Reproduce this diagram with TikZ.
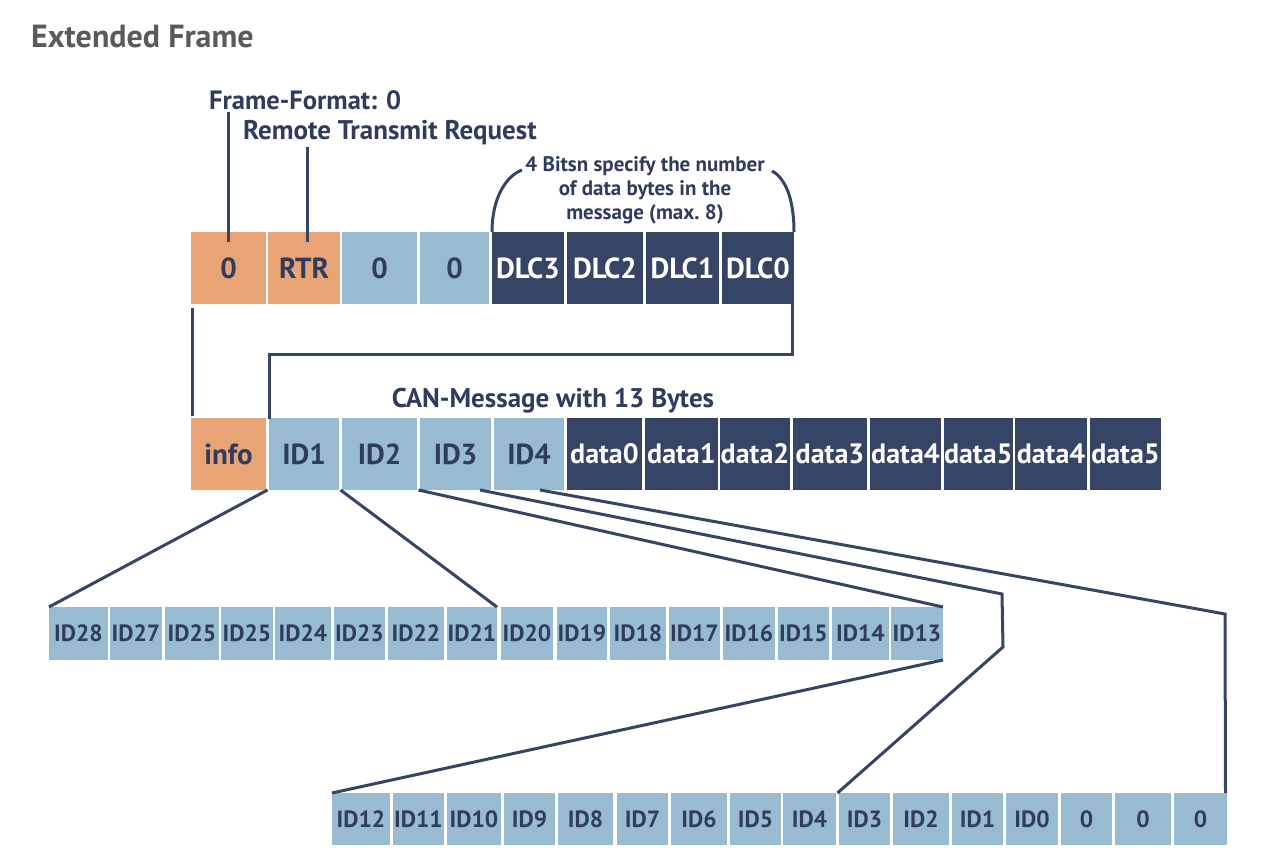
\documentclass[tikz,border=0pt]{standalone}
\usepackage{fontspec}
\setmainfont{PT Sans}
\usetikzlibrary{calc}
\definecolor{orng}{HTML}{E8A474}
\definecolor{lblue}{HTML}{98BBD1}
\definecolor{navy}{HTML}{364466}
\definecolor{txt}{HTML}{2F3C5E}
\definecolor{ttl}{HTML}{5A5A5A}
\newcommand\cellbox[7]{\node[#6, minimum width=#3-#2, minimum height=#5] (#1) at (#2,#4) {#7};}
\begin{document}
\begin{tikzpicture}[x=1pt,y=-1pt,
  cell/.style={anchor=north west, inner sep=0pt, outer sep=0pt, text=txt, font=\bfseries\fontsize{29}{29}\selectfont},
  ocell/.style={cell, fill=orng},
  bcell/.style={cell, fill=lblue},
  dcell/.style={cell, fill=navy, text=white},
  ddcell/.style={dcell, font=\bfseries\fontsize{28}{28}\selectfont},
  scell/.style={cell, fill=lblue, font=\bfseries\fontsize{23.5}{23.5}\selectfont},
  lbl/.style={inner sep=0pt, text=txt, font=\bfseries\fontsize{26.5}{26.5}\selectfont},
  conn/.style={draw=navy, line width=3pt}]
\useasboundingbox (0,0) rectangle (1278,866);
\node[anchor=west, inner sep=0pt, text=ttl, font=\bfseries\fontsize{32}{32}\selectfont] (title) at (31,37) {Extended Frame};
% top row
\cellbox{t1}{191}{266}{232}{72}{ocell}{0}
\cellbox{t2}{268}{340}{232}{72}{ocell}{RTR}
\cellbox{t3}{342}{417}{232}{72}{bcell}{0}
\cellbox{t4}{420}{489}{232}{72}{bcell}{0}
\cellbox{t5}{492}{564}{232}{72}{dcell}{DLC3}
\cellbox{t6}{567}{643}{232}{72}{dcell}{DLC2}
\cellbox{t7}{646}{719}{232}{72}{dcell}{DLC1}
\cellbox{t8}{722}{794}{232}{72}{dcell}{DLC0}
% middle row
\cellbox{m0}{191}{266}{418}{72}{ocell}{info}
\cellbox{m1}{269}{339}{418}{72}{bcell}{ID1}
\cellbox{m2}{342}{417}{418}{72}{bcell}{ID2}
\cellbox{m3}{420}{491}{418}{72}{bcell}{ID3}
\cellbox{m4}{494}{564}{418}{72}{bcell}{ID4}
\cellbox{d0}{567}{642}{418}{72}{ddcell}{data0}
\cellbox{d1}{645}{718}{418}{72}{ddcell}{data1}
\cellbox{d2}{720}{790}{418}{72}{ddcell}{data2}
\cellbox{d3}{793}{867}{418}{72}{ddcell}{data3}
\cellbox{d4}{870}{941}{418}{72}{ddcell}{data4}
\cellbox{d5}{944}{1012}{418}{72}{ddcell}{data5}
\cellbox{d6}{1015}{1087}{418}{72}{ddcell}{data4}
\cellbox{d7}{1090}{1161}{418}{72}{ddcell}{data5}
% bottom row 1
\cellbox{a28}{49}{108}{607}{53}{scell}{ID28}
\cellbox{a27}{110}{162}{607}{53}{scell}{ID27}
\cellbox{a26}{165}{219}{607}{53}{scell}{ID25}
\cellbox{a25}{221}{273}{607}{53}{scell}{ID25}
\cellbox{a24}{275}{331}{607}{53}{scell}{ID24}
\cellbox{a23}{334}{385}{607}{53}{scell}{ID23}
\cellbox{a22}{388}{444}{607}{53}{scell}{ID22}
\cellbox{a21}{447}{497}{607}{53}{scell}{ID21}
\cellbox{a20}{501}{553}{607}{53}{scell}{ID20}
\cellbox{a19}{557}{607}{607}{53}{scell}{ID19}
\cellbox{a18}{610}{666}{607}{53}{scell}{ID18}
\cellbox{a17}{669}{720}{607}{53}{scell}{ID17}
\cellbox{a16}{723}{775}{607}{53}{scell}{ID16}
\cellbox{a15}{778}{829}{607}{53}{scell}{ID15}
\cellbox{a14}{832}{889}{607}{53}{scell}{ID14}
\cellbox{a13}{891}{943}{607}{53}{scell}{ID13}
% bottom row 2
\cellbox{b12}{332}{390}{793}{52}{scell}{ID12}
\cellbox{b11}{393}{444}{793}{52}{scell}{ID11}
\cellbox{b10}{447}{501}{793}{52}{scell}{ID10}
\cellbox{b9}{504}{555}{793}{52}{scell}{ID9}
\cellbox{b8}{558}{613}{793}{52}{scell}{ID8}
\cellbox{b7}{617}{668}{793}{52}{scell}{ID7}
\cellbox{b6}{671}{727}{793}{52}{scell}{ID6}
\cellbox{b5}{730}{781}{793}{52}{scell}{ID5}
\cellbox{b4}{783}{836}{793}{52}{scell}{ID4}
\cellbox{b3}{839}{890}{793}{52}{scell}{ID3}
\cellbox{b2}{893}{949}{793}{52}{scell}{ID2}
\cellbox{b1}{952}{1003}{793}{52}{scell}{ID1}
\cellbox{b0}{1006}{1058}{793}{52}{scell}{ID0}
\cellbox{z1}{1061}{1112}{793}{52}{scell}{0}
\cellbox{z2}{1115}{1171}{793}{52}{scell}{0}
\cellbox{z3}{1174}{1227}{793}{52}{scell}{0}
% labels
\node[lbl, anchor=west] (ff) at (209,100) {Frame-Format: 0};
\node[lbl, anchor=west, font=\bfseries\fontsize{27}{27}\selectfont] (rtr) at (243,133) {Remote Transmit Request};
\node[lbl, align=center, font=\bfseries\fontsize{21}{24}\selectfont] (dlcnote) at (645,190) {4 Bitsn specify the number\\of data bytes in the\\message (max.\ 8)};
\node[lbl, font=\bfseries\fontsize{27}{27}\selectfont] (can) at (553,401) {CAN-Message with 13 Bytes};
% connectors
\draw[conn] (ff.south -| t1.center) ++(0,2) -- ($(t1.north)+(0,10)$);
\draw[conn] ($(rtr.south -| t2.center)+(3,2)$) -- ($(t2.north)+(3,10)$);
\draw[conn] (t5.north west) .. controls ($(t5.north west)+(0,-34)$) and ($(t5.north west)+(14,-56)$) .. ($(t5.north west)+(30,-62)$);
\draw[conn] (t8.north east) .. controls ($(t8.north east)+(0,-34)$) and ($(t8.north east)+(-9,-54)$) .. ($(t8.north east)+(-22,-61)$);
\draw[conn] ($(t1.south west)+(1.5,4)$) -- ($(m0.north west)+(1.5,-2)$);
\draw[conn] ($(t8.south east)+(-1.5,0)$) -- ++(0,51) -| ($(m1.north west)+(0,1)$);
\coordinate (k3) at (1002,594);
\coordinate (k4) at (1003,647);
\coordinate (k5) at (1225,614);
\draw[conn] ($(m0.south east)+(1.5,0)$) -- (a28.north west);
\draw[conn] ($(m1.south east)+(1.5,0)$) -- (a21.north east);
\draw[conn] ($(m2.south east)+(1.5,0)$) -- (a13.north east);
\draw[conn] ($(m3.south east)+(-11,0)$) -- (k3) -- (k4) -- ($(b4.north east)+(1.5,0)$);
\draw[conn] ($(m4.south east)+(-24,0)$) -- (k5) -- ($(z3.north east)+(-1.5,0)$);
\draw[conn] (a13.south east) -- (b12.north west);
\end{tikzpicture}
\end{document}
